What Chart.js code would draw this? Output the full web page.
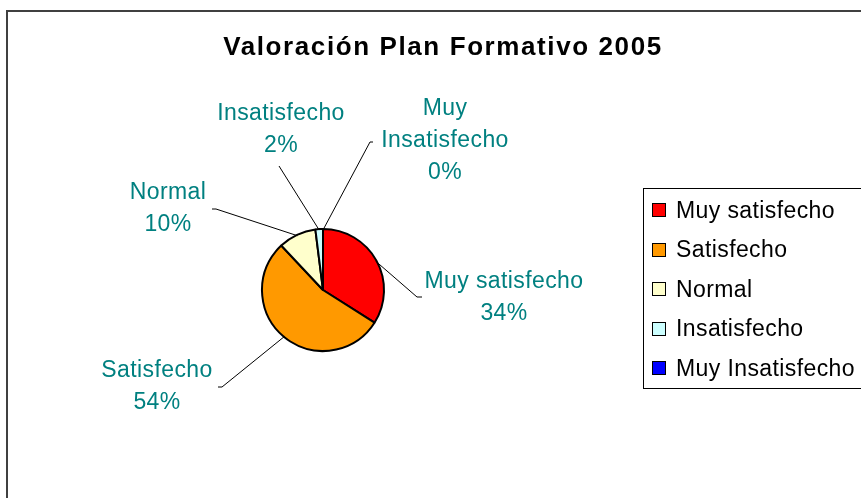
<!DOCTYPE html>
<html>
<head>
<meta charset="utf-8">
<script src="https://cdn.jsdelivr.net/npm/chart.js@4"></script>
<style>
  html, body { margin: 0; padding: 0; background: #fff; }
  #wrap { width: 861px; height: 498px; position: relative; }
</style>
</head>
<body>
<div id="wrap"><canvas id="c" width="861" height="498"></canvas></div>
<script>
// ---- data ----
const chartTitle = 'Valoración Plan Formativo 2005';
const categories = ['Muy satisfecho', 'Satisfecho', 'Normal', 'Insatisfecho', 'Muy Insatisfecho'];
const pctValues = [34, 54, 10, 2, 0];
const sliceColors = ['#FF0000', '#FF9900', '#FFFFCC', '#CCFFFF', '#0000FF'];
// label text lines (category may wrap)
const labelLines = [['Muy satisfecho'], ['Satisfecho'], ['Normal'], ['Insatisfecho'], ['Muy', 'Insatisfecho']];

// ---- layout (label block centers & leader ends, relative to pie center) ----
const labelLayout = [
  { cx: 181, cy: 7.5, lx: 94, ly: 7, stub: 5 },
  { cx: -166, cy: 97, lx: -101, ly: 97, stub: -4 },
  { cx: -155, cy: -81, lx: -107, ly: -81, stub: -4 },
  { cx: -42, cy: -160, lx: -44, ly: -124, stub: 0 },
  { cx: 122, cy: -149, lx: 47, ly: -148, stub: 3 }
];

const FONT = '"Liberation Sans", Arial, sans-serif';

const decor = {
  id: 'decor',
  afterDraw(chart) {
    const ctx = chart.ctx;
    const meta = chart.getDatasetMeta(0);
    ctx.save();
    // outer frame
    ctx.strokeStyle = '#404040';
    ctx.lineWidth = 2;
    ctx.strokeRect(7, 11, 900, 600);

    // title
    ctx.fillStyle = '#000';
    ctx.font = 'bold 26px ' + FONT;
    ctx.letterSpacing = '1.6px';
    ctx.textAlign = 'center';
    ctx.textBaseline = 'middle';
    ctx.fillText(chartTitle, 443, 48);

    // data labels with leader lines
    ctx.letterSpacing = '0.4px';
    ctx.font = '23px ' + FONT;
    const lineH = 32;
    meta.data.forEach((arc, i) => {
      const p = arc.getProps(['x', 'y', 'startAngle', 'endAngle', 'outerRadius'], true);
      const mid = (p.startAngle + p.endAngle) / 2;
      const ax = p.x + Math.cos(mid) * (p.outerRadius - 1);
      const ay = p.y + Math.sin(mid) * (p.outerRadius - 1);
      const L = labelLayout[i];
      // leader line
      ctx.strokeStyle = '#000';
      ctx.lineWidth = 1;
      ctx.beginPath();
      ctx.moveTo(p.x + L.lx + L.stub, p.y + L.ly);
      ctx.lineTo(p.x + L.lx, p.y + L.ly);
      ctx.lineTo(ax, ay);
      ctx.stroke();
      // text
      const lines = labelLines[i].concat([pctValues[i] + '%']);
      const top = p.y + L.cy - (lines.length - 1) * lineH / 2;
      ctx.fillStyle = '#008080';
      lines.forEach((t, k) => ctx.fillText(t, p.x + L.cx, top + k * lineH));
    });

    // legend
    ctx.letterSpacing = '0.4px';
    ctx.strokeStyle = '#000';
    ctx.lineWidth = 1;
    ctx.strokeRect(643.5, 188.5, 260, 200);
    ctx.textAlign = 'left';
    categories.forEach((c, i) => {
      const y = 210 + i * 39.5;
      const yr = Math.round(y);
      ctx.fillStyle = sliceColors[i];
      ctx.fillRect(653, yr - 6, 12, 12);
      ctx.strokeStyle = '#000';
      ctx.strokeRect(652.5, yr - 6.5, 13, 13);
      ctx.fillStyle = '#000';
      ctx.fillText(c, 676, y + 1.5);
    });
    ctx.restore();
  }
};

new Chart(document.getElementById('c'), {
  type: 'pie',
  data: {
    labels: categories,
    datasets: [{
      data: pctValues,
      backgroundColor: sliceColors,
      borderColor: '#000',
      borderWidth: 2
    }]
  },
  options: {
    responsive: false,
    animation: false,
    devicePixelRatio: 1,
    layout: { padding: { left: 261, right: 476, top: 228, bottom: 146 } },
    plugins: {
      legend: { display: false },
      title: { display: false },
      tooltip: { enabled: false }
    }
  },
  plugins: [decor]
});
</script>
</body>
</html>
